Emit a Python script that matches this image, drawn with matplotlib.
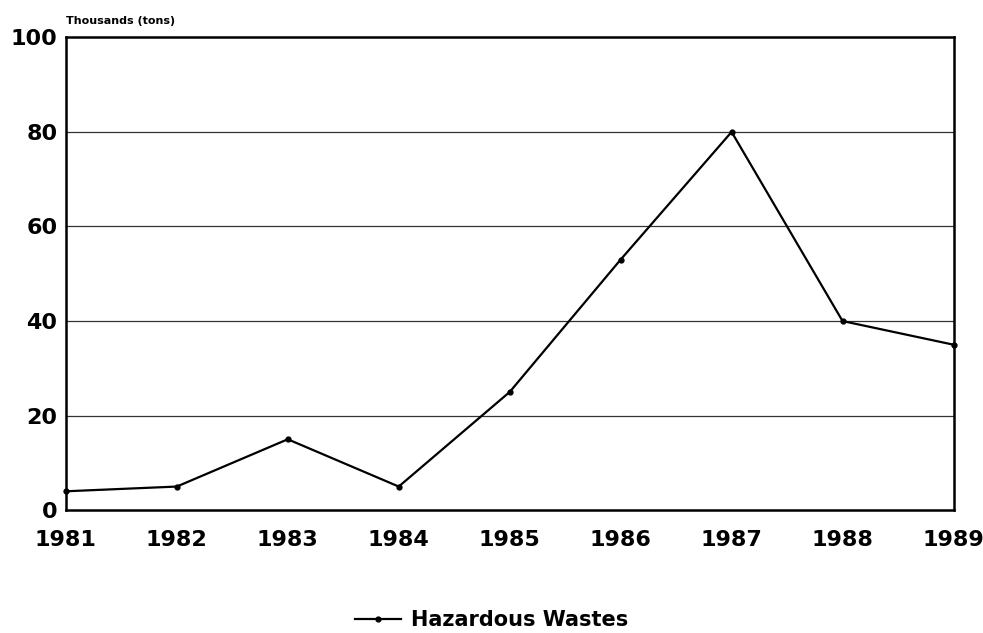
import numpy as np
import matplotlib
matplotlib.use("Agg")
import matplotlib.pyplot as plt
from matplotlib.lines import Line2D

# -----------------------------
# Data
# -----------------------------
years = [1981, 1982, 1983, 1984, 1985, 1986, 1987, 1988, 1989]
wastes = [4, 5, 15, 5, 25, 53, 80, 40, 35]
y_ticks = [0, 20, 40, 60, 80, 100]
series_name = "Hazardous Wastes"
unit_label = "Thousands (tons)"

plt.rcParams["font.family"] = ["DejaVu Sans"]

fig = plt.figure(figsize=(9.83, 6.33), dpi=100)
ax = fig.add_axes([0.067, 0.194, 0.903, 0.747])

ax.plot(years, wastes, color="black", lw=1.6, marker="o", ms=3.5,
        clip_on=False, zorder=3)

ax.set_xlim(years[0], years[-1])
ax.set_ylim(0, 100)
ax.set_xticks(years)
ax.set_yticks(y_ticks)
ax.set_xticklabels([str(y) for y in years], fontsize=16, fontweight="bold")
ax.set_yticklabels([str(v) for v in y_ticks], fontsize=16, fontweight="bold")
ax.tick_params(axis="both", length=0)
ax.tick_params(axis="y", pad=6)
ax.tick_params(axis="x", pad=14)

# gridlines
for v in y_ticks[1:-1]:
    ax.axhline(v, color="#333333", lw=0.9, zorder=1)

for side in ["left", "right", "top", "bottom"]:
    ax.spines[side].set_linewidth(1.8)

ax.text(0.0, 1.025, unit_label, transform=ax.transAxes, fontsize=8,
        fontweight="bold", ha="left", va="bottom")

# legend
handle = Line2D([0], [0], color="black", lw=1.6, marker="o", ms=3.5)
fig.legend([handle], [series_name], loc="center", bbox_to_anchor=(0.5, 0.02),
           frameon=False, prop={"size": 15, "weight": "bold"},
           handlelength=2.2, handletextpad=0.5)

plt.savefig("out.png", dpi=100)
